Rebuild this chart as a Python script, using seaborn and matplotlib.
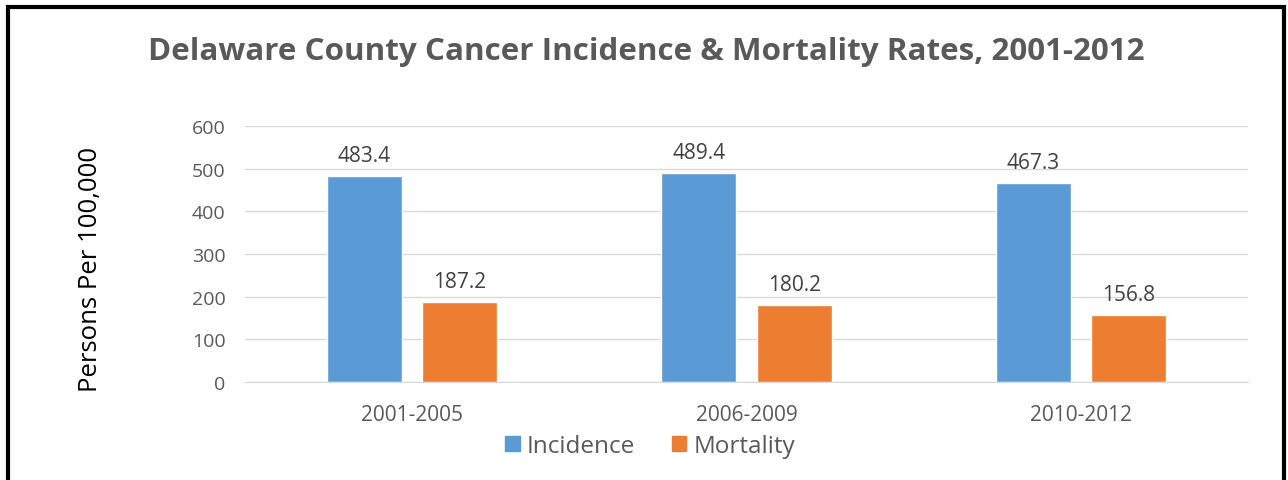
import pandas as pd
import seaborn as sns
import matplotlib.pyplot as plt
from matplotlib.patches import Rectangle

periods = ['2001-2005', '2006-2009', '2010-2012']
incidence = [483.4, 489.4, 467.3]
mortality = [187.2, 180.2, 156.8]
series = ['Incidence', 'Mortality']

rows = []
for p, inc, mort in zip(periods, incidence, mortality):
    rows.append([p, 'Incidence', inc])
    rows.append([p, 'Mortality', mort])
df = pd.DataFrame(rows, columns=['period', 'measure', 'rate'])

sns.set_style("white")
plt.rcParams['font.family'] = ['Open Sans', 'DejaVu Sans']

fig = plt.figure(figsize=(12.88, 4.81), dpi=100)
ax = fig.add_axes([245 / 1288, 1 - 383 / 481, (1248 - 245) / 1288, (383 - 127) / 481])

sns.barplot(data=df, x='period', y='rate', hue='measure', hue_order=series,
            palette=['#5B9BD5', '#ED7D31'], width=0.57, gap=0.21,
            saturation=1, ax=ax, legend=False)

for cont in ax.containers:
    ax.bar_label(cont, fmt='%.1f', padding=7, fontsize=15, color='#404040')

ax.set_ylim(0, 600)
ax.set_yticks(range(0, 601, 100))
ax.yaxis.grid(True, color='#D9D9D9', linewidth=1)
ax.set_axisbelow(True)
for s in ['top', 'right', 'left']:
    ax.spines[s].set_visible(False)
ax.spines['bottom'].set_color('#D9D9D9')
ax.tick_params(axis='y', length=0, labelsize=14, colors='#595959', pad=14)
ax.tick_params(axis='x', length=0, labelsize=15, colors='#595959', pad=16)
ax.set_xlabel('')
ax.set_ylabel('Persons Per 100,000', fontsize=18.5, color='black')
ax.yaxis.set_label_coords(-0.142, 0.445)

handles = [Rectangle((0, 0), 1, 1, color=c) for c in ['#5B9BD5', '#ED7D31']]
fig.legend(handles, series, loc='center', bbox_to_anchor=(650 / 1288, 1 - 447 / 481),
           ncol=2, frameon=False, fontsize=17.5, handlelength=0.6, handleheight=0.6,
           handletextpad=0.3, columnspacing=1.5, labelcolor='#595959')

fig.text(646 / 1288, 1 - 52 / 481, 'Delaware County Cancer Incidence & Mortality Rates, 2001-2012',
         ha='center', va='center', fontsize=22.6, fontweight='bold', color='#595959')

# black frame around the chart
fig.patches.append(Rectangle((8 / 1288, -0.05), 1276 / 1288, 1 - 8 / 481 + 0.05,
                             transform=fig.transFigure, fill=False,
                             edgecolor='black', linewidth=3))

fig.savefig('out.png', dpi=100)
